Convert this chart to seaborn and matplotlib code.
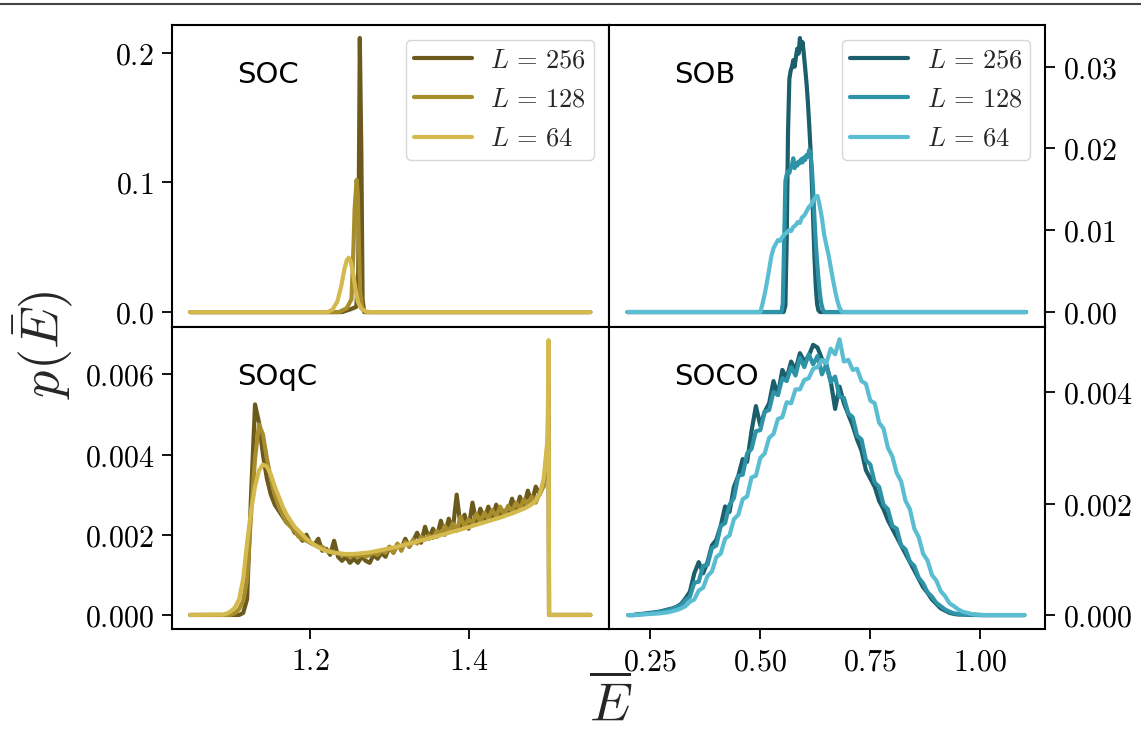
import numpy as np
import pandas as pd
import seaborn as sns
import matplotlib
matplotlib.use("Agg")
import matplotlib.pyplot as plt
from matplotlib.lines import Line2D
from matplotlib.ticker import FixedLocator, FixedFormatter

# ---------------- data ----------------
SIZES = [r"$L\,=\,256$", r"$L\,=\,128$", r"$L\,=\,64$"]
GOLD = ["#6b5a1c", "#a88d2c", "#d4ba4e"]
BLUE = ["#1b5e6c", "#2f93a8", "#5bbdd2"]

# SOC panel
SOC_E_256 = [1.048, 1.240, 1.250, 1.258, 1.2605, 1.2625, 1.2645, 1.266, 1.268, 1.554]
SOC_P_256 = [0, 0, 0.002, 0.004, 0.03, 0.2115, 0.12, 0.01, 0, 0]
SOC_E_128 = [1.048, 1.236, 1.246, 1.252, 1.2545, 1.256, 1.2585, 1.260, 1.2615, 1.263, 1.266, 1.270, 1.554]
SOC_P_128 = [0, 0, 0.003, 0.01, 0.05, 0.08, 0.102, 0.09, 0.05, 0.015, 0.002, 0, 0]
SOC_E_64 = [1.048, 1.222, 1.228, 1.234, 1.239, 1.243, 1.246, 1.2485, 1.251, 1.254, 1.257, 1.260, 1.264, 1.270, 1.276, 1.554]
SOC_P_64 = [0, 0, 0.002, 0.008, 0.02, 0.033, 0.040, 0.042, 0.039, 0.030, 0.018, 0.008, 0.003, 0.0005, 0, 0]

# SOqC panel
SOQC_E = [1.048, 1.090, 1.095,
          1.100, 1.105, 1.110, 1.115, 1.120, 1.125, 1.130, 1.135, 1.140, 1.145,
          1.150, 1.155, 1.160, 1.165, 1.170, 1.175, 1.180, 1.185, 1.190, 1.195,
          1.200, 1.205, 1.210, 1.215, 1.220, 1.225, 1.230, 1.235, 1.240, 1.245,
          1.250, 1.255, 1.260, 1.265, 1.270, 1.275, 1.280, 1.285, 1.290, 1.295,
          1.300, 1.305, 1.310, 1.315, 1.320, 1.325, 1.330, 1.335, 1.340, 1.345,
          1.350, 1.355, 1.360, 1.365, 1.370, 1.375, 1.380, 1.385, 1.390, 1.395,
          1.400, 1.405, 1.410, 1.415, 1.420, 1.425, 1.430, 1.435, 1.440, 1.445,
          1.450, 1.455, 1.460, 1.465, 1.470, 1.475, 1.480, 1.485, 1.490, 1.495,
          1.500, 1.5012, 1.5018, 1.554]
SOQC_P_256 = [0, 0, 0,
              0, 0, 0, 0.00005, 0.0004, 0.0030, 0.00525, 0.0048, 0.0040, 0.0034,
              0.0030, 0.00275, 0.0026, 0.00245, 0.0023, 0.00225, 0.00205, 0.0020, 0.00185, 0.0020,
              0.0018, 0.00175, 0.0019, 0.0016, 0.00165, 0.0015, 0.00185, 0.00145, 0.00135, 0.00145,
              0.0013, 0.0014, 0.0013, 0.00145, 0.00135, 0.0013, 0.0015, 0.0014, 0.00155, 0.00145,
              0.0017, 0.00155, 0.00175, 0.00165, 0.0019, 0.0017, 0.00185, 0.00205, 0.0018, 0.0022,
              0.0019, 0.00215, 0.00195, 0.00235, 0.0020, 0.0024, 0.0021, 0.0030, 0.0022, 0.0025,
              0.00215, 0.0028, 0.0023, 0.00265, 0.00235, 0.0027, 0.0024, 0.00275, 0.0025, 0.0026,
              0.00255, 0.0029, 0.0026, 0.00295, 0.0027, 0.0031, 0.0028, 0.0032, 0.0030, 0.00325,
              0.0040, 0.0050, 0, 0]
SOQC_P_128 = [0, 0, 0,
              0.00001, 0.00005, 0.00015, 0.00035, 0.0009, 0.0025, 0.0039, 0.00475, 0.0045, 0.0039,
              0.0034, 0.0030, 0.0027, 0.0025, 0.0023, 0.0022, 0.0021, 0.00195, 0.0019, 0.00185,
              0.0018, 0.00175, 0.0017, 0.0017, 0.0016, 0.0016, 0.00155, 0.00155, 0.0015, 0.0015,
              0.00145, 0.0015, 0.00145, 0.0015, 0.00145, 0.0015, 0.00155, 0.0015, 0.0016, 0.00155,
              0.0017, 0.00155, 0.00178, 0.0016, 0.00182, 0.0017, 0.00188, 0.00178, 0.00195, 0.00188,
              0.00198, 0.00192, 0.0021, 0.0020, 0.00222, 0.00205, 0.00228, 0.0021, 0.00245, 0.0022,
              0.00238, 0.0023, 0.00252, 0.00232, 0.00255, 0.0024, 0.00262, 0.00245, 0.0027, 0.0025,
              0.00272, 0.00258, 0.0028, 0.00265, 0.00288, 0.00272, 0.00295, 0.0028, 0.00305, 0.0032,
              0.0043, 0.0058, 0, 0]
SOQC_P_64 = [0, 0.00001, 0.00004,
             0.0001, 0.0002, 0.0004, 0.0009, 0.0018, 0.0026, 0.0032, 0.0036, 0.00375, 0.0037,
             0.0035, 0.0032, 0.00295, 0.0027, 0.0025, 0.00235, 0.0022, 0.0021, 0.0020, 0.0019,
             0.00182, 0.00175, 0.00169, 0.00164, 0.0016, 0.00157, 0.00155, 0.00154, 0.00153, 0.00152,
             0.00152, 0.00152, 0.00153, 0.00154, 0.00155, 0.00156, 0.00158, 0.0016, 0.00162, 0.00164,
             0.00166, 0.00168, 0.0017, 0.00173, 0.00175, 0.00178, 0.0018, 0.00183, 0.00186, 0.00188,
             0.00191, 0.00194, 0.00196, 0.00199, 0.00202, 0.00205, 0.00208, 0.0021, 0.00213, 0.00216,
             0.00219, 0.00222, 0.00225, 0.00228, 0.00231, 0.00234, 0.00237, 0.0024, 0.00243, 0.00246,
             0.0025, 0.00253, 0.00257, 0.00261, 0.00265, 0.0027, 0.00276, 0.00285, 0.0030, 0.0034,
             0.0044, 0.00685, 0, 0]

# SOB panel
SOB_E_256 = [0.198, 0.553, 0.557, 0.560, 0.563, 0.566, 0.569, 0.572, 0.575, 0.578, 0.581, 0.584, 0.587,
             0.590, 0.593, 0.596, 0.599, 0.602, 0.605, 0.608, 0.611, 0.614, 0.617, 0.620, 0.623,
             0.626, 0.629, 0.632, 0.636, 1.104]
SOB_P_256 = [0, 0, 0.0008, 0.009, 0.022, 0.0285, 0.0295, 0.0300, 0.0308, 0.0300, 0.0312, 0.0322, 0.0316,
             0.0335, 0.0322, 0.0330, 0.0315, 0.0298, 0.0280, 0.0258, 0.0230, 0.0200, 0.0160, 0.0115, 0.0068,
             0.0032, 0.0010, 0.0002, 0, 0]
SOB_E_128 = [0.198, 0.548, 0.551, 0.554, 0.557, 0.560, 0.563, 0.566, 0.569, 0.572, 0.575, 0.578, 0.581,
             0.584, 0.587, 0.590, 0.593, 0.596, 0.599, 0.602, 0.605, 0.608, 0.611, 0.614, 0.617,
             0.620, 0.623, 0.626, 0.629, 0.632, 0.635, 0.638, 0.642, 0.646, 1.104]
SOB_P_128 = [0, 0, 0.001, 0.008, 0.0160, 0.0168, 0.0172, 0.0170, 0.0176, 0.0180, 0.0188, 0.0176, 0.0182,
             0.0179, 0.0184, 0.0182, 0.0187, 0.0183, 0.0189, 0.0186, 0.0192, 0.0190, 0.0198, 0.0194, 0.0178,
             0.0150, 0.0115, 0.0085, 0.0062, 0.0042, 0.0025, 0.0012, 0.0003, 0, 0]
SOB_E_64 = [0.198, 0.500, 0.505, 0.510, 0.515, 0.520, 0.525, 0.530, 0.535, 0.540, 0.545, 0.550, 0.555,
            0.560, 0.565, 0.570, 0.575, 0.580, 0.585, 0.590, 0.595, 0.600, 0.605, 0.610, 0.615,
            0.620, 0.625, 0.630, 0.635, 0.640, 0.645, 0.650, 0.655, 0.660, 0.665, 0.670, 0.675,
            0.680, 0.686, 1.104]
SOB_P_64 = [0, 0, 0.0010, 0.0022, 0.0036, 0.0052, 0.0068, 0.0078, 0.0083, 0.0088, 0.0087, 0.0092, 0.0095,
            0.0097, 0.0100, 0.0099, 0.0104, 0.0106, 0.0110, 0.0109, 0.0116, 0.0118, 0.0123, 0.0128, 0.0131,
            0.0136, 0.0140, 0.0142, 0.0130, 0.0115, 0.0095, 0.0082, 0.0070, 0.0055, 0.0040, 0.0026, 0.0014,
            0.0005, 0, 0]

# SOCO panel
SOCO_E = [0.20, 0.21, 0.22, 0.23, 0.24, 0.25, 0.26, 0.27, 0.28, 0.29,
          0.30, 0.31, 0.32, 0.33, 0.34, 0.35, 0.36, 0.37, 0.38, 0.39,
          0.40, 0.41, 0.42, 0.43, 0.44, 0.45, 0.46, 0.47, 0.48, 0.49,
          0.50, 0.51, 0.52, 0.53, 0.54, 0.55, 0.56, 0.57, 0.58, 0.59,
          0.60, 0.61, 0.62, 0.63, 0.64, 0.65, 0.66, 0.67, 0.68, 0.69,
          0.70, 0.71, 0.72, 0.73, 0.74, 0.75, 0.76, 0.77, 0.78, 0.79,
          0.80, 0.81, 0.82, 0.83, 0.84, 0.85, 0.86, 0.87, 0.88, 0.89,
          0.90, 0.91, 0.92, 0.93, 0.94, 0.95, 0.96, 0.97, 0.98, 0.99,
          1.00, 1.01, 1.02, 1.03, 1.04, 1.05, 1.06, 1.07, 1.08, 1.09, 1.10]
SOCO_P_256 = [0, 0, 0.00001, 0.00002, 0.00003, 0.00004, 0.00005, 0.00006, 0.00008, 0.0001,
              0.00012, 0.00015, 0.0002, 0.0003, 0.00042, 0.00075, 0.00095, 0.00075, 0.00095, 0.00125,
              0.00135, 0.0016, 0.00195, 0.00185, 0.0023, 0.0025, 0.0028, 0.00275, 0.0033, 0.00375,
              0.0034, 0.00365, 0.0038, 0.0042, 0.00395, 0.0044, 0.00425, 0.00455, 0.0044, 0.0047,
              0.00455, 0.00465, 0.00485, 0.0048, 0.0046, 0.0045, 0.0042, 0.0037, 0.0041, 0.0038,
              0.0036, 0.0034, 0.00315, 0.00295, 0.0026, 0.00245, 0.0023, 0.00205, 0.0019, 0.0017,
              0.00155, 0.0014, 0.00125, 0.0011, 0.00095, 0.0008, 0.00065, 0.0005, 0.0004, 0.00028,
              0.0002, 0.00012, 0.00008, 0.00004, 0.00002, 0.00001, 0.00001, 0.000005, 0, 0.000005,
              0, 0, 0, 0, 0, 0, 0, 0, 0, 0, 0]
SOCO_P_128 = [0, 0, 0.00001, 0.000015, 0.00002, 0.00003, 0.00004, 0.00005, 0.00007, 0.00009,
              0.00011, 0.00014, 0.00018, 0.00027, 0.00033, 0.00058, 0.0006, 0.00088, 0.0009, 0.0012,
              0.00125, 0.0016, 0.00165, 0.00198, 0.0021, 0.0025, 0.00252, 0.0029, 0.00298, 0.0033,
              0.00332, 0.00365, 0.00368, 0.0040, 0.00395, 0.00425, 0.0042, 0.00445, 0.0043, 0.00462,
              0.00445, 0.00468, 0.0045, 0.00465, 0.00432, 0.0045, 0.00418, 0.00428, 0.00392, 0.0039,
              0.00362, 0.00355, 0.00322, 0.00315, 0.00278, 0.0027, 0.00238, 0.0023, 0.00198, 0.0019,
              0.0016, 0.00155, 0.00125, 0.00118, 0.00096, 0.00088, 0.00067, 0.00057, 0.00041, 0.00033,
              0.00022, 0.00016, 0.0001, 0.00006, 0.00003, 0.00002, 0.00001, 0.00001, 0.000005, 0,
              0, 0, 0, 0, 0, 0, 0, 0, 0, 0, 0]
SOCO_P_64 = [0, 0, 0, 0.00001, 0.000015, 0.00002, 0.000025, 0.00003, 0.00004, 0.00005,
             0.00007, 0.00009, 0.00012, 0.00016, 0.00024, 0.00028, 0.00044, 0.00049, 0.0007, 0.00078,
             0.00104, 0.0011, 0.00137, 0.00143, 0.00172, 0.0018, 0.00208, 0.00213, 0.00247, 0.0025,
             0.00282, 0.0029, 0.00318, 0.00325, 0.00352, 0.00355, 0.00382, 0.0038, 0.00405, 0.00405,
             0.00422, 0.00425, 0.00442, 0.00445, 0.00458, 0.00452, 0.00478, 0.00468, 0.00495, 0.00455,
             0.00458, 0.0044, 0.00442, 0.0042, 0.00415, 0.00385, 0.0038, 0.00345, 0.00335, 0.0030,
             0.00285, 0.00255, 0.0024, 0.00205, 0.0019, 0.00155, 0.0014, 0.0011, 0.00098, 0.00072,
             0.00062, 0.00043, 0.00034, 0.00021, 0.00016, 0.0001, 0.00006, 0.00004, 0.00002, 0.00001,
             0.000005, 0, 0, 0, 0, 0, 0, 0, 0, 0, 0]

PANEL_NAMES = ["SOC", "SOB", "SOqC", "SOCO"]

# ---------------- style ----------------
sns.set_theme(style="ticks")
plt.rcParams["font.family"] = ["DejaVu Sans"]
plt.rcParams["mathtext.fontset"] = "cm"

W, H = 1141, 732
fig, axes = plt.subplots(2, 2, figsize=(W / 100, H / 100), dpi=100)
fig.subplots_adjust(left=172 / W, right=1045 / W, top=1 - 25 / H, bottom=1 - 629 / H,
                    wspace=0, hspace=0)
ax_soc, ax_sob = axes[0]
ax_soqc, ax_soco = axes[1]

LW = 3.0


def draw(ax, xs, ys, colors):
    for x, y, c, lab in zip(xs, ys, colors, SIZES):
        df = pd.DataFrame({"E": x, "p": y})
        sns.lineplot(data=df, x="E", y="p", ax=ax, color=c, lw=LW, label=lab,
                     sort=False, estimator=None, legend=False)


draw(ax_soc, [SOC_E_256, SOC_E_128, SOC_E_64], [SOC_P_256, SOC_P_128, SOC_P_64], GOLD)
draw(ax_soqc, [SOQC_E] * 3, [SOQC_P_256, SOQC_P_128, SOQC_P_64], GOLD)
draw(ax_sob, [SOB_E_256, SOB_E_128, SOB_E_64], [SOB_P_256, SOB_P_128, SOB_P_64], BLUE)
draw(ax_soco, [SOCO_E] * 3, [SOCO_P_256, SOCO_P_128, SOCO_P_64], BLUE)

# limits
for ax in (ax_soc, ax_soqc):
    ax.set_xlim(1.025, 1.577)
for ax in (ax_sob, ax_soco):
    ax.set_xlim(0.155, 1.147)
ax_soc.set_ylim(-0.0115, 0.2215)
ax_soqc.set_ylim(-0.00035, 0.00718)
ax_sob.set_ylim(-0.00183, 0.0351)
ax_soco.set_ylim(-0.00025, 0.00517)


def set_ticks(axis, vals, labels):
    axis.set_major_locator(FixedLocator(vals))
    axis.set_major_formatter(FixedFormatter(["$" + l + "$" for l in labels]))


set_ticks(ax_soc.yaxis, [0, 0.1, 0.2], ["0.0", "0.1", "0.2"])
set_ticks(ax_soqc.yaxis, [0, 0.002, 0.004, 0.006], ["0.000", "0.002", "0.004", "0.006"])
set_ticks(ax_sob.yaxis, [0, 0.01, 0.02, 0.03], ["0.00", "0.01", "0.02", "0.03"])
set_ticks(ax_soco.yaxis, [0, 0.002, 0.004], ["0.000", "0.002", "0.004"])
set_ticks(ax_soqc.xaxis, [1.2, 1.4], ["1.2", "1.4"])
set_ticks(ax_soco.xaxis, [0.25, 0.5, 0.75, 1.0], ["0.25", "0.50", "0.75", "1.00"])

for ax in axes.flat:
    ax.set_xlabel("")
    ax.set_ylabel("")
    for s in ax.spines.values():
        s.set_visible(True)
        s.set_color("black")
        s.set_linewidth(1.5)
    ax.tick_params(which="both", direction="out", length=7, width=1.3, colors="black",
                   labelsize=21.5, pad=6)

for ax in (ax_soc, ax_sob):
    ax.tick_params(axis="x", bottom=False, labelbottom=False)
for ax in (ax_sob, ax_soco):
    ax.yaxis.tick_right()
    ax.tick_params(axis="y", left=False, labelleft=False, right=True, labelright=True)
for ax in (ax_soc, ax_soqc):
    ax.tick_params(axis="y", right=False, labelright=False)

# panel titles
for ax, name in zip([ax_soc, ax_sob, ax_soqc, ax_soco], PANEL_NAMES):
    ax.text(0.15, 0.835, name, transform=ax.transAxes, fontsize=21,
            ha="left", va="center", color="black")

# legends
for ax in (ax_soc, ax_sob):
    ax.legend(loc="upper right", fontsize=19, frameon=True, framealpha=0.8,
              edgecolor="0.8", fancybox=True, handlelength=2.2,
              labelspacing=0.5, borderpad=0.3, handletextpad=0.7,
              borderaxespad=0.55)

# axis labels
fig.text(43 / W, 1 - 345 / H, r"$p(\bar{E})$", rotation=90, fontsize=39,
         ha="center", va="center")
fig.text(611 / W, 1 - 705 / H, r"$\overline{E}$", fontsize=39, ha="center", va="center")

# thin rule at top of the page
fig.add_artist(Line2D([0, 1], [1 - 4 / H, 1 - 4 / H], transform=fig.transFigure,
                      color="#444444", lw=1.5))

fig.savefig("out.png", dpi=100)
